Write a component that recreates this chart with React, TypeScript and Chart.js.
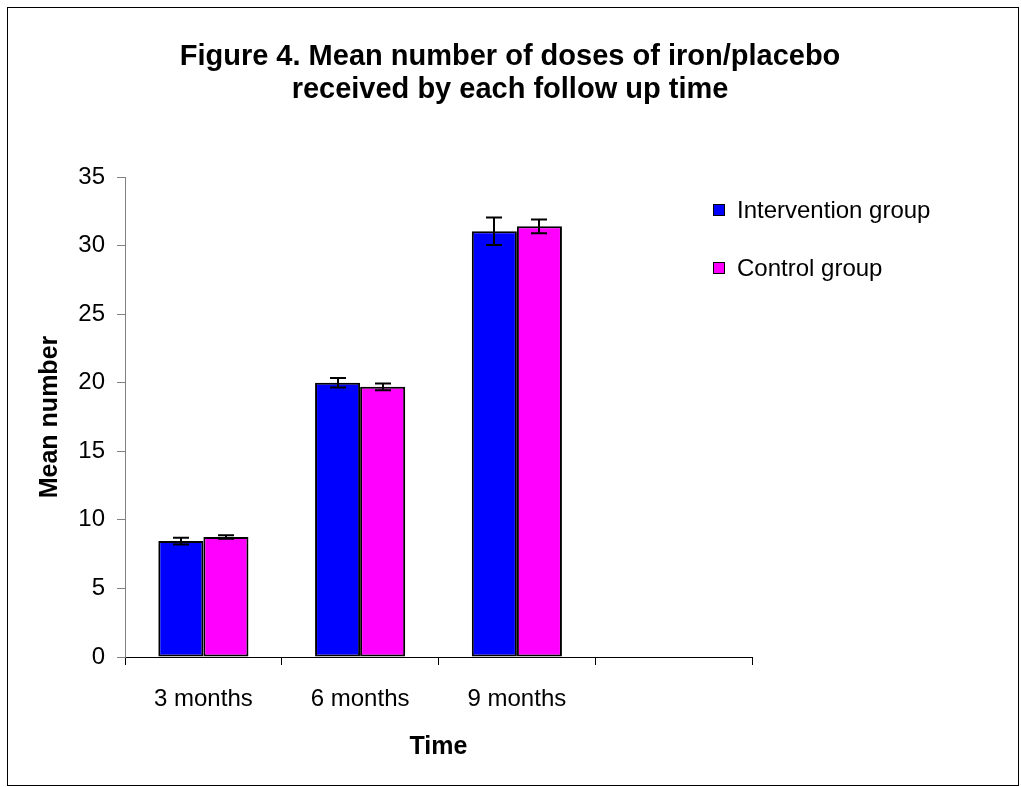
import React, { useEffect, useRef } from "react";
import { Chart, registerables } from "chart.js";

Chart.register(...registerables);

const titleLines = ["Figure 4. Mean number of doses of iron/placebo", "received by each follow up time"];
const categories = ["3 months", "6 months", "9 months", ""];
const seriesNames = ["Intervention group", "Control group"];
const interventionMeans = [8.45, 20.0, 31.05];
const interventionErrors = [0.25, 0.35, 1.0];
const controlMeans = [8.75, 19.7, 31.4];
const controlErrors = [0.12, 0.25, 0.5];
const yTicks = [0, 5, 10, 15, 20, 25, 30, 35];
const xAxisTitle = "Time";
const yAxisTitle = "Mean number";

const FONT = "'Liberation Sans', Arial, sans-serif";

const framePlugin = {
  id: "frame",
  beforeDraw(chart: any) {
    const ctx = chart.ctx;
    ctx.save();
    ctx.fillStyle = "#ffffff";
    ctx.fillRect(0, 0, chart.width, chart.height);
    ctx.strokeStyle = "#000000";
    ctx.lineWidth = 1;
    ctx.strokeRect(7.5, 7.5, 1011, 778);
    ctx.restore();
  },
};

const titlePlugin = {
  id: "customTitle",
  afterDraw(chart: any) {
    const ctx = chart.ctx;
    ctx.save();
    ctx.fillStyle = "#000000";
    ctx.font = `bold 29px ${FONT}`;
    ctx.textAlign = "center";
    ctx.textBaseline = "middle";
    ctx.fillText(titleLines[0], 510, 57);
    ctx.fillText(titleLines[1], 510, 90);
    ctx.restore();
  },
};

const legendPlugin = {
  id: "customLegend",
  afterDraw(chart: any) {
    const ctx = chart.ctx;
    ctx.save();
    const ys = [210, 268];
    chart.data.datasets.forEach((ds: any, i: number) => {
      const y = ys[i];
      ctx.fillStyle = ds.backgroundColor;
      ctx.fillRect(713, y - 6, 12, 12);
      ctx.strokeStyle = "#000000";
      ctx.lineWidth = 1;
      ctx.strokeRect(713.5, y - 5.5, 11, 11);
      ctx.fillStyle = "#000000";
      ctx.font = `24px ${FONT}`;
      ctx.textAlign = "left";
      ctx.textBaseline = "middle";
      ctx.fillText(ds.label, 737, y + 1);
    });
    ctx.restore();
  },
};

const errorPlugin = {
  id: "errorBars",
  afterDatasetsDraw(chart: any) {
    const ctx = chart.ctx;
    const yScale = chart.scales.y;
    ctx.save();
    ctx.strokeStyle = "#000000";
    ctx.lineWidth = 2;
    chart.data.datasets.forEach((ds: any, di: number) => {
      const meta = chart.getDatasetMeta(di);
      meta.data.forEach((bar: any, i: number) => {
        const v = ds.data[i];
        const e = ds.errors[i];
        if (v == null || e == null) return;
        const x = Math.round(bar.x);
        const yTop = yScale.getPixelForValue(v + e);
        const yBot = yScale.getPixelForValue(v - e);
        ctx.beginPath();
        ctx.moveTo(x, yTop);
        ctx.lineTo(x, yBot);
        ctx.moveTo(x - 8, yTop);
        ctx.lineTo(x + 8, yTop);
        ctx.moveTo(x - 8, yBot);
        ctx.lineTo(x + 8, yBot);
        ctx.stroke();
      });
    });
    ctx.restore();
  },
};

export default function App() {
  const ref = useRef<HTMLCanvasElement | null>(null);
  useEffect(() => {
    if (!ref.current) return;
    const chart = new Chart(ref.current, {
      type: "bar",
      data: {
        labels: categories,
        datasets: [
          {
            label: seriesNames[0],
            data: interventionMeans,
            errors: interventionErrors,
            backgroundColor: "#0000FF",
            borderColor: "#000000",
            borderWidth: 2,
            borderSkipped: false,
          } as any,
          {
            label: seriesNames[1],
            data: controlMeans,
            errors: controlErrors,
            backgroundColor: "#FF00FF",
            borderColor: "#000000",
            borderWidth: 2,
            borderSkipped: false,
          } as any,
        ],
      },
      options: {
        responsive: false,
        animation: false,
        devicePixelRatio: 1,
        layout: { padding: { top: 177, right: 269, left: 0, bottom: 0 } },
        plugins: {
          legend: { display: false },
          title: { display: false },
          tooltip: { enabled: false },
        },
        datasets: {
          bar: { categoryPercentage: 0.575, barPercentage: 1 },
        },
        scales: {
          x: {
            type: "category",
            offset: true,
            grid: {
              offset: true,
              drawOnChartArea: false,
              drawTicks: true,
              tickLength: 8,
              color: "#000000",
              lineWidth: 1,
            },
            border: { display: true, color: "#000000", width: 1 },
            ticks: {
              color: "#000000",
              font: { family: FONT, size: 24 },
              padding: 20,
              maxRotation: 0,
              autoSkip: false,
            },
            title: {
              display: true,
              text: xAxisTitle,
              color: "#000000",
              font: { family: FONT, size: 25, weight: "bold" },
              padding: { top: 0, bottom: 25 },
            },
            afterFit(scale: any) {
              scale.height = 130;
            },
          },
          y: {
            min: 0,
            max: 35,
            afterBuildTicks(scale: any) {
              scale.ticks = yTicks.map((v) => ({ value: v }));
            },
            grid: {
              drawOnChartArea: false,
              drawTicks: true,
              tickLength: 8,
              color: "#808080",
              lineWidth: 1,
            },
            border: { display: true, color: "#808080", width: 1 },
            ticks: {
              color: "#000000",
              font: { family: FONT, size: 24 },
              padding: 12,
            },
            title: {
              display: true,
              text: yAxisTitle,
              color: "#000000",
              font: { family: FONT, size: 25, weight: "bold" },
              padding: { top: 35, bottom: 0 },
            },
            afterFit(scale: any) {
              scale.width = 125;
            },
          },
        },
      } as any,
      plugins: [framePlugin, titlePlugin, legendPlugin, errorPlugin],
    });
    return () => chart.destroy();
  }, []);
  return (
    <div style={{ position: "fixed", left: 0, top: 0, width: 1021, height: 787, background: "#fff" }}>
      <canvas ref={ref} width={1021} height={787} style={{ width: 1021, height: 787, display: "block" }} />
    </div>
  );
}
